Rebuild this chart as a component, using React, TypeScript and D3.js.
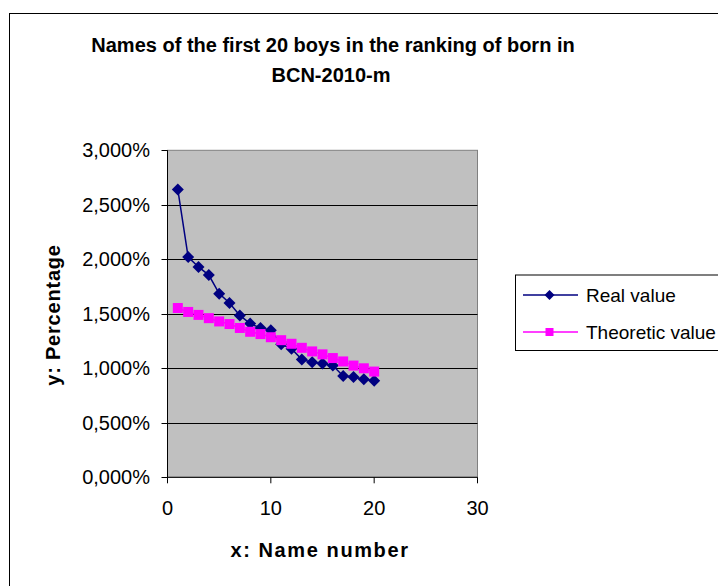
import React from "react";
import * as d3 from "d3";

// Rank of the name (1..20)
const ranks = [1, 2, 3, 4, 5, 6, 7, 8, 9, 10, 11, 12, 13, 14, 15, 16, 17, 18, 19, 20];
// Observed share of newborn boys (in %)
const realValues = [2.64, 2.02, 1.93, 1.855, 1.685, 1.6, 1.485, 1.41, 1.37, 1.35, 1.22, 1.18, 1.08, 1.055, 1.045, 1.025, 0.93, 0.92, 0.9, 0.885];
// Fitted theoretic share (in %)
const theoreticValues = [1.553, 1.517, 1.49, 1.46, 1.43, 1.406, 1.37, 1.335, 1.314, 1.285, 1.258, 1.225, 1.188, 1.155, 1.128, 1.094, 1.063, 1.025, 1.0, 0.97];
const xTicks = [0, 10, 20, 30];
const yTicks = [0, 0.5, 1, 1.5, 2, 2.5, 3];
const seriesNames = ["Real value", "Theoretic value"];

const W = 718;
const H = 586;
const plot = { left: 167.5, right: 477.5, top: 150.3, bottom: 477.3 };
const FONT = "'Liberation Sans', Arial, sans-serif";
const NAVY = "#000080";
const MAGENTA = "#FF00FF";

const esLocale = d3.formatLocale({
  decimal: ",",
  thousands: ".",
  grouping: [3],
  currency: ["", "€"],
});
const fmt = esLocale.format(".3f");

export default function App() {
  const x = d3.scaleLinear().domain([0, 30]).range([plot.left, plot.right]);
  const y = d3.scaleLinear().domain([0, 3]).range([plot.bottom, plot.top]);

  const line = d3
    .line<number>()
    .x((_, i) => x(ranks[i]))
    .y((d) => y(d));

  const diamond = (cx: number, cy: number, r: number) =>
    `M${cx},${cy - r}L${cx + r},${cy}L${cx},${cy + r}L${cx - r},${cy}Z`;

  const legendX = 515.5;
  const legendY = 275;
  const rowY = [295, 332];

  return (
    <svg
      width={W}
      height={H}
      style={{ position: "absolute", left: 0, top: 0, background: "#fff" }}
      fontFamily={FONT}
    >
      {/* chart frame */}
      <rect x={9.5} y={13.5} width={W + 10} height={H + 10} fill="#fff" stroke="#000" strokeWidth={1} />

      {/* title */}
      <text x={333} y={51.5} textAnchor="middle" fontSize={20} fontWeight="bold">
        Names of the first 20 boys in the ranking of born in
      </text>
      <text x={331} y={81.5} textAnchor="middle" fontSize={20} fontWeight="bold">
        BCN-2010-m
      </text>

      {/* plot area */}
      <rect
        x={plot.left}
        y={plot.top}
        width={plot.right - plot.left}
        height={plot.bottom - plot.top}
        fill="#C0C0C0"
        stroke="#808080"
        strokeWidth={1}
      />

      {/* horizontal gridlines */}
      {yTicks.slice(1, -1).map((t) => (
        <line
          key={`g${t}`}
          x1={plot.left}
          x2={plot.right}
          y1={Math.round(y(t)) + 0.5}
          y2={Math.round(y(t)) + 0.5}
          stroke="#000"
          strokeWidth={1}
        />
      ))}

      {/* axes */}
      <line x1={plot.left} x2={plot.left} y1={plot.top} y2={plot.bottom} stroke="#000" strokeWidth={1} />
      <line x1={plot.left} x2={plot.right} y1={plot.bottom} y2={plot.bottom} stroke="#000" strokeWidth={1} />

      {/* y ticks */}
      {yTicks.map((t) => (
        <g key={`y${t}`}>
          <line
            x1={plot.left - 6}
            x2={plot.left}
            y1={Math.round(y(t)) + 0.5}
            y2={Math.round(y(t)) + 0.5}
            stroke="#000"
          />
          <text x={150} y={y(t)} dy="0.35em" textAnchor="end" fontSize={20}>
            {fmt(t)}%
          </text>
        </g>
      ))}

      {/* x ticks */}
      {xTicks.map((t) => (
        <g key={`x${t}`}>
          <line x1={x(t)} x2={x(t)} y1={plot.bottom} y2={plot.bottom + 6} stroke="#000" />
          <text x={x(t)} y={515} textAnchor="middle" fontSize={20}>
            {t}
          </text>
        </g>
      ))}

      {/* axis titles */}
      <text x={320} y={557} textAnchor="middle" fontSize={20} fontWeight="bold" letterSpacing={1.6}>
        x: Name number
      </text>
      <text
        transform={`translate(60,315) rotate(-90)`}
        textAnchor="middle"
        fontSize={20}
        fontWeight="bold"
        letterSpacing={0.8}
      >
        y: Percentage
      </text>

      {/* real value series */}
      <path d={line(realValues) ?? ""} fill="none" stroke={NAVY} strokeWidth={1.5} />
      {realValues.map((v, i) => (
        <path key={`r${i}`} d={diamond(x(ranks[i]), y(v), 6)} fill={NAVY} />
      ))}

      {/* theoretic value series */}
      <path d={line(theoreticValues) ?? ""} fill="none" stroke={MAGENTA} strokeWidth={1.5} />
      {theoreticValues.map((v, i) => (
        <rect key={`t${i}`} x={x(ranks[i]) - 5} y={y(v) - 5} width={10} height={10} fill={MAGENTA} />
      ))}

      {/* legend */}
      <rect x={legendX} y={legendY} width={W} height={75.5} fill="#fff" stroke="#000" strokeWidth={1} />
      {seriesNames.map((name, i) => {
        const color = i === 0 ? NAVY : MAGENTA;
        const cy = rowY[i];
        return (
          <g key={name}>
            <line x1={523} x2={578} y1={cy} y2={cy} stroke={color} strokeWidth={1.5} />
            {i === 0 ? (
              <path d={diamond(549.5, cy, 5)} fill={color} />
            ) : (
              <rect x={545.5} y={cy - 4} width={8} height={8} fill={color} />
            )}
            <text x={586} y={cy} dy="0.35em" fontSize={19}>
              {name}
            </text>
          </g>
        );
      })}
    </svg>
  );
}
